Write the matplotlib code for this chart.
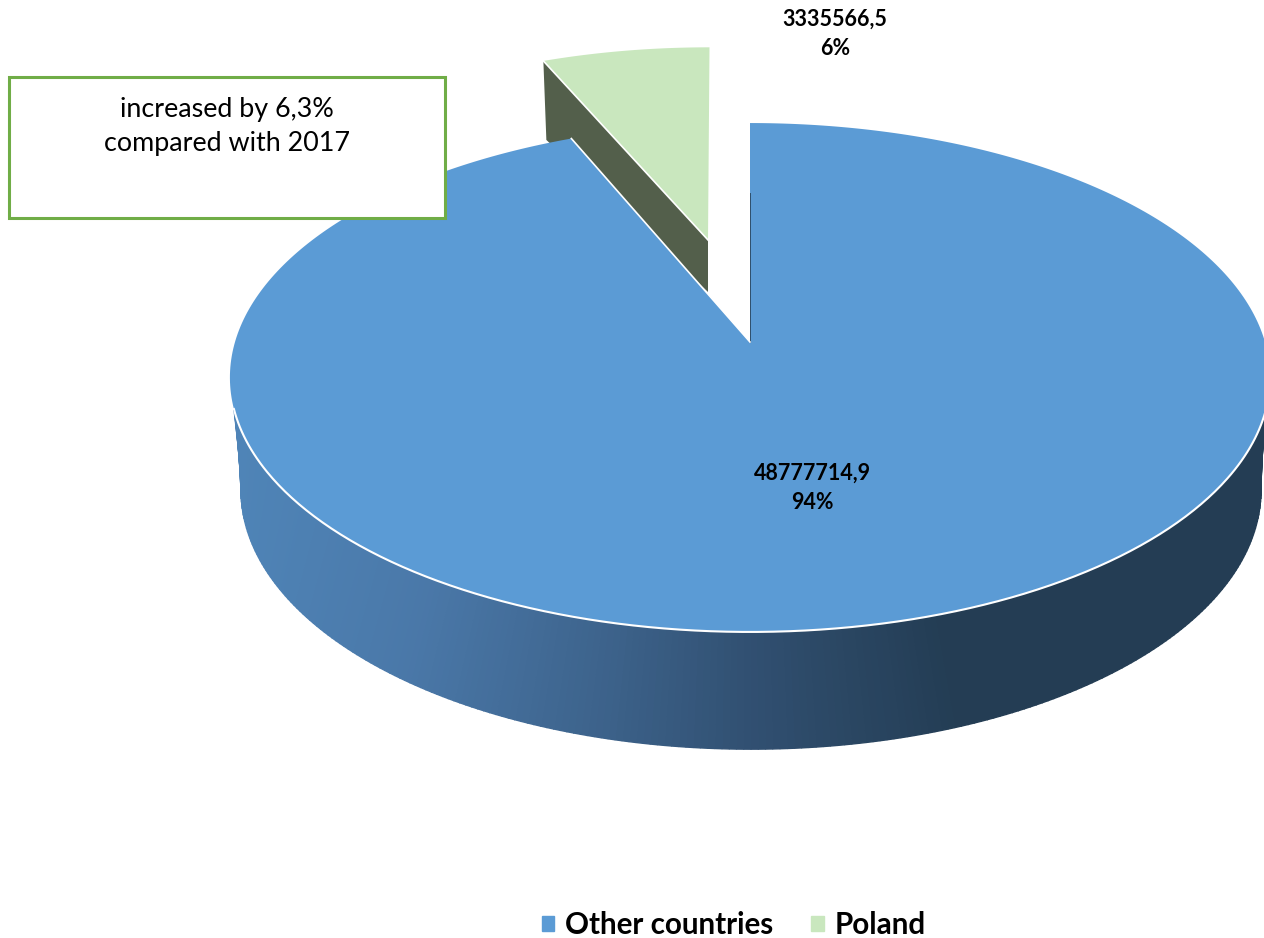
import numpy as np
import matplotlib
matplotlib.use('Agg')
import matplotlib.pyplot as plt
from matplotlib.patches import Patch, Rectangle

plt.rcParams['font.family'] = ['Lato', 'DejaVu Sans']

categories = ['Other countries', 'Poland']
values = [48777714.9, 3335566.5]
value_labels = ['48777714,9', '3335566,5']
percent_labels = ['94%', '6%']
note_lines = ['increased by 6,3%', 'compared with 2017']

blue = '#5B9BD5'
green = '#C9E7BE'
green_side = '#535F4B'
box_edge = '#70AD47'

# side shading goes left to right
shade_x = [232, 420, 600, 760, 950, 1264]
shade_r = [0.31, 0.29, 0.24, 0.19, 0.14, 0.14]
shade_g = [0.52, 0.47, 0.39, 0.31, 0.24, 0.24]
shade_b = [0.72, 0.66, 0.55, 0.44, 0.33, 0.33]

# tilted disc: perspective makes the centre sit above the middle of the ellipse
tilt = 0.1395


def project(theta, r, cx, cy, ax_x, ax_y):
    u = r * np.sin(theta)
    v = r * np.cos(theta)
    w = 1 + tilt * v
    return cx + ax_x * u / w, cy - ax_y * v / w


fig = plt.figure(figsize=(12.64, 9.38), dpi=100)
ax = fig.add_axes([0, 0, 1, 1])
ax.set_xlim(0, 1264)
ax.set_ylim(938, 0)
ax.axis('off')

poland_angle = 2 * np.pi * values[1] / sum(values)

# poland slice, pulled out towards the back
t = np.linspace(-poland_angle, 0, 40)
px, py = project(t, 1.0, 709.5, 240, 515 * 0.93, 249.5 * 0.88)
cx0, cy0 = px[0], py[0]
ax.fill([cx0, 708, 708, cx0 + 3], [cy0, 240, 292, cy0 + 79],
        color=green_side, lw=0, zorder=1)
ax.fill(np.r_[708, px], np.r_[240, py], color=green, lw=0, zorder=2)
ax.plot([cx0, 708], [cy0, 240], color='white', lw=1.2, zorder=2.5)

# main slice, side first
t = np.radians(np.linspace(105, 255, 241))
t_low = np.radians(np.linspace(95, 265, 241))
tx, ty = project(t, 1.0, 750, 342, 515, 249.5)
bx, by = project(t_low, 1.0, 751, 454, 505, 254)
for i in range(len(t) - 1):
    xm = (tx[i] + bx[i]) / 2
    col = (np.interp(xm, shade_x, shade_r),
           np.interp(xm, shade_x, shade_g),
           np.interp(xm, shade_x, shade_b))
    ax.fill([tx[i], tx[i + 1], bx[i + 1], bx[i]],
            [ty[i], ty[i + 1], by[i + 1], by[i]],
            color=col, lw=1.0, zorder=3)

t = np.linspace(0, 2 * np.pi - poland_angle, 400)
mx, my = project(t, 1.0, 750, 342, 515, 249.5)
ax.fill(np.r_[750, mx], np.r_[342, my], color=blue, lw=0, zorder=4)

# white rim on the front, thin dark cut face by the gap
rim = np.radians(np.linspace(105, 255, 300))
rx, ry = project(rim, 1.0, 750, 342, 515, 249.5)
ax.plot(rx, ry, color='white', lw=1.5, zorder=5)
r_cut = np.linspace(0, 0.65, 10)
cut_x, cut_y = project(0.0, r_cut, 749.5, 342, 515, 249.5)
ax.plot(cut_x, cut_y, color='#2F4F6B', lw=0.7, zorder=5)
ex, ey = project(-poland_angle, np.array([0.0, 1.0]), 750, 342, 515, 249.5)
ax.plot(ex, ey, color='white', lw=1.2, zorder=5)

# data labels
ax.text(812, 488, value_labels[0] + '\n' + percent_labels[0], ha='center', va='center',
        fontsize=15.5, fontweight='bold', color='black', linespacing=1.5, zorder=6)
ax.text(835, 34, value_labels[1] + '\n' + percent_labels[1], ha='center', va='center',
        fontsize=15.5, fontweight='bold', color='black', linespacing=1.5, zorder=6)

# note box
ax.add_patch(Rectangle((8.5, 77.5), 436, 141, facecolor='white', edgecolor=box_edge,
                       lw=2.2, zorder=7))
ax.text(227, 126.5, note_lines[0] + '\n' + note_lines[1], ha='center', va='center',
        fontsize=19.4, color='black', linespacing=1.42, zorder=8)

handles = [Patch(color=blue), Patch(color=green)]
leg = ax.legend(handles, categories, loc='center', bbox_to_anchor=(734 / 1264, 1 - 925 / 938),
                ncol=2, frameon=False, prop={'size': 21.3, 'weight': 'bold'},
                handlelength=0.41, handleheight=0.41, handletextpad=0.37, columnspacing=1.28)

plt.savefig('out.png', dpi=100)
